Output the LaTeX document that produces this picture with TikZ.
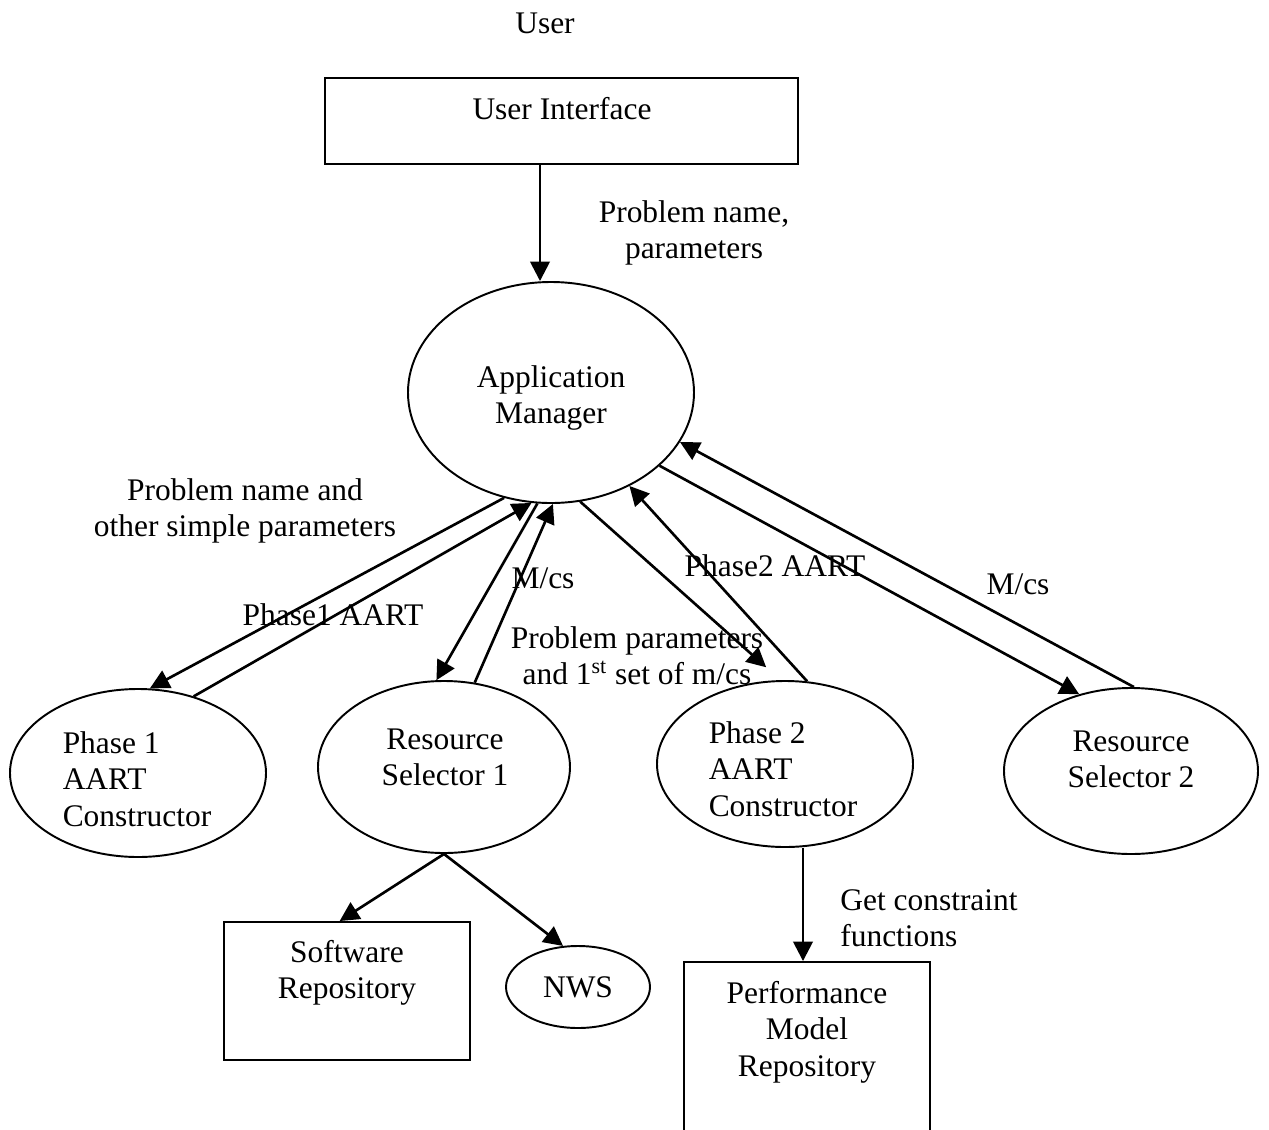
\documentclass[tikz,border=0pt]{standalone}
\usepackage{fontspec}
\setmainfont{Liberation Serif}
\usetikzlibrary{arrows.meta,shapes.geometric,calc}
\newcommand{\pu}{0.02cm}
\begin{document}
\begin{tikzpicture}[x=0.02cm,y=-0.02cm,
  every node/.style={font=\fontsize{17.9}{20.7}\selectfont},
  ell/.style={draw, ellipse, line width=1.1pt, inner sep=0pt},
  box/.style={draw, rectangle, line width=1.1pt, inner sep=0pt},
  lbl/.style={align=center, inner sep=0pt},
  arr/.style={line width=1.5pt, -{Triangle[length=11pt,width=11pt]}}]
\clip (0,0) rectangle (1269,1130);
\fill[white] (0,0) rectangle (1269,1130);
% nodes
\node[lbl] (user) at (545,23) {User};
\node[box, minimum width=473*\pu, minimum height=86*\pu] (ui) at (561.5,121) {};
\node[lbl] (uit) at (562,109) {User Interface};
\node[ell, minimum width=286*\pu, minimum height=221*\pu] (am) at (551,392.5) {};
\node[lbl] (amt) at (551,398) {Application\\Manager};
\node[lbl] (pnp) at (694,233) {Problem name,\\parameters};
\node[ell, minimum width=256*\pu, minimum height=168*\pu] (p1) at (138,773) {};
\node[lbl, align=left] (p1t) at (137,779) {Phase 1\\AART\\Constructor};
\node[ell, minimum width=252*\pu, minimum height=172*\pu] (rs1) at (444,767) {};
\node[lbl] (rs1t) at (445,757.5) {Resource\\Selector 1};
\node[ell, minimum width=256*\pu, minimum height=166*\pu] (p2) at (785,764) {};
\node[lbl, align=left] (p2t) at (783,769) {Phase 2\\AART\\Constructor};
\node[ell, minimum width=254*\pu, minimum height=166*\pu] (rs2) at (1131,771) {};
\node[lbl] (rs2t) at (1131,759.5) {Resource\\Selector 2};
\node[box, minimum width=246*\pu, minimum height=138*\pu] (sw) at (347,991) {};
\node[lbl] (swt) at (347,973) {Software\\Repository};
\node[ell, minimum width=144*\pu, minimum height=82*\pu] (nws) at (578,987) {NWS};
\node[box, minimum width=246*\pu, minimum height=250*\pu] (perf) at (807,1087) {};
\node[lbl] (perft) at (807,1032) {Performance\\Model\\Repository};
\node[lbl, align=left, anchor=west] (gcf) at (840,918) {Get constraint\\functions};
% edge labels
\node[lbl] (l1) at (245,511) {Problem name and\\other simple parameters};
\node[lbl] (l2) at (333,615) {Phase1 AART};
\node[lbl] (l3) at (543,578) {M/cs};
\node[lbl] (l4) at (637,656) {Problem parameters\\and 1\textsuperscript{st} set of m/cs};
\node[lbl] (l5) at (775,566) {Phase2 AART};
\node[lbl] (l6) at (1018,584) {M/cs};
% connectors
\draw[arr] ($(ui.south)+(-21.5,0)$) -- ($(ui.south |- am.north)+(-21.5,0)$);
\draw[arr] (am.-114.5) -- (p1.82.4);
\draw[arr] (p1.54) -- (am.-100.6);
\draw[arr] (am.-97.7) -- (rs1.95.7);
\draw[arr] (rs1.70.5) -- (am.-89);
\draw[arr, shorten >=11pt] (am.-75.9) -- (p2.93.4);
\draw[arr] (p2.75.7) -- (am.-50.3);
\draw[arr] (am.-34.7) -- (rs2.124.2);
\draw[arr] (rs2.88.6) -- (am.-21.1);
\draw[arr] (rs1.south) -- (sw.96);
\draw[arr] (rs1.south) -- (nws.110.6);
\draw[arr] ($(perf.north |- p2.south)+(-4,0)$) -- ($(perf.north)+(-4,0)$);
\end{tikzpicture}
\end{document}
